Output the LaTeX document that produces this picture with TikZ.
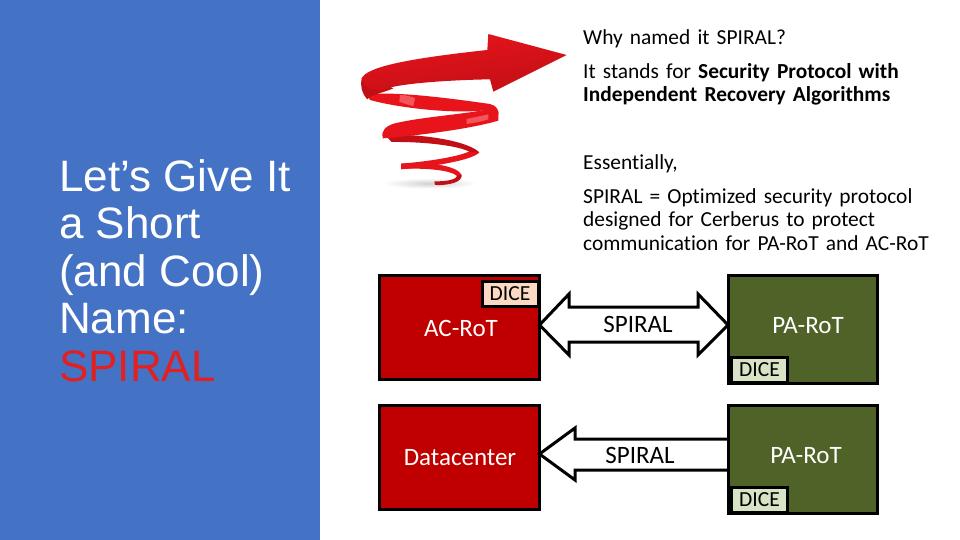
\documentclass[tikz,border=0pt]{standalone}
\usepackage{fontspec}
\setmainfont{Carlito}[Ligatures=NoCommon]
\newfontfamily\leftfont{Liberation Sans}
\definecolor{panelblue}{HTML}{4472C4}
\definecolor{acred}{HTML}{C00000}
\definecolor{paolive}{HTML}{4F6228}
\definecolor{dicepeach}{HTML}{FBD9C2}
\definecolor{diceolive}{HTML}{D8E2C4}
\definecolor{ribbon}{HTML}{E8141C}
\definecolor{ribbondark}{HTML}{C20F15}
\definecolor{ribbonlight}{HTML}{F4555A}
\definecolor{titlered}{HTML}{E3201F}
\tikzset{
  x=1pt,y=-1pt,
  mainbox/.style={draw=black,line width=3pt,inner sep=0pt,outer sep=0pt,rectangle},
  dicebox/.style={draw=black,line width=3pt,inner sep=0pt,outer sep=0pt,rectangle,font=\fontsize{21.5}{21.5}\selectfont,text=black,minimum height=25pt,minimum width=56pt},
  boxtext/.style={text=white,font=\fontsize{25}{25}\selectfont,inner sep=0pt,anchor=center},
  flowtext/.style={text=black,font=\fontsize{25}{25}\selectfont,inner sep=0pt,anchor=center},
  bodytext/.style={text=black,font=\fontsize{21.4}{23.6}\selectfont,anchor=north west,inner sep=0pt,align=left,text width=370pt},
  flowarrow/.style={draw=black,line width=3pt,fill=white,miter limit=6}
}
\begin{document}
\begin{tikzpicture}
\useasboundingbox (0,0) rectangle (960,540);
\fill[white] (0,0) rectangle (960,540);
\fill[panelblue] (0,0) rectangle (320,540);
\node[anchor=north west,inner sep=0pt,align=left,text=white,font=\leftfont\fontsize{44}{47.5}\selectfont] (title) at (59,159)
  {Let’s Give It\\a Short\\(and Cool)\\Name:\\\textcolor{titlered}{SPIRAL}};

% spiral picture
\begin{scope}[shift={(350,20)},x=0.3333pt,y=-0.3333pt]
  \shade[inner color=black!18,outer color=white] (240,490) ellipse (140 and 16);
  % bottom curl
  \fill[ribbondark] (335,465) .. controls (338,485) and (300,497) .. (255,495) -- (253,484) .. controls (290,485) and (325,478) .. (320,465) -- cycle;
  \fill[ribbon] (153,431) .. controls (230,425) and (320,435) .. (335,465) -- (320,467) .. controls (300,450) and (230,445) .. (170,446) -- cycle;
  \fill[ribbon] (360,393) .. controls (330,410) and (230,425) .. (153,431) -- (153,448) .. controls (250,440) and (370,420) .. (388,397) -- cycle;
  \fill[ribbondark] (105,345) .. controls (200,340) and (350,360) .. (388,397) -- (362,397) .. controls (330,378) and (230,365) .. (125,366) -- cycle;
  % front of upper coil
  \fill[ribbon] (425,266) .. controls (330,285) and (220,290) .. (135,310) .. controls (105,318) and (92,335) .. (98,355) .. controls (170,350) and (350,330) .. (445,302) -- (445,275) -- cycle;
  \fill[ribbonlight] (350,297) .. controls (370,292) and (395,288) .. (415,283) -- (415,298) .. controls (395,305) and (375,308) .. (350,312) -- cycle;
  % back of upper coil
  \fill[ribbon] (50,222) .. controls (150,215) and (300,235) .. (420,252) .. controls (440,257) and (447,270) .. (445,285) -- (425,268) .. controls (330,285) and (150,265) .. (60,240) -- cycle;
  \fill[ribbonlight] (150,225) .. controls (170,225) and (185,230) .. (195,235) -- (190,258) .. controls (175,255) and (160,250) .. (148,245) -- cycle;
  \fill[ribbondark] (35,175) .. controls (30,195) and (35,220) .. (52,238) .. controls (60,225) and (110,215) .. (130,205) -- (60,170) -- cycle;
  % main arrow
  \shade[top color=ribbon,bottom color=ribbondark,shading angle=8]
    (35,175) .. controls (50,140) and (180,115) .. (412,90) -- (415,42) -- (650,105) -- (430,215) -- (420,178)
    .. controls (300,180) and (150,190) .. (100,208) .. controls (70,212) and (40,205) .. (35,175) -- cycle;
\end{scope}

% body text
\node[bodytext] (why) at (583,29) {Why named it SPIRAL?};
\node[bodytext] (stands) at (583,63) {It stands for \textbf{Security Protocol with}\\\textbf{Independent Recovery Algorithms}};
\node[bodytext] (ess) at (583,154) {Essentially,};
\node[bodytext] (def) at (583,188) {SPIRAL = Optimized security protocol\\designed for Cerberus to protect\\communication for PA-RoT and AC-RoT};

% boxes
\node[mainbox,fill=acred,minimum width=160pt,minimum height=104pt] (ac) at (459.5,327) {};
\node[mainbox,fill=paolive,minimum width=149pt,minimum height=108pt] (pa1) at (802.5,329) {};
\node[mainbox,fill=acred,minimum width=160pt,minimum height=104pt] (dc) at (459.5,457) {};
\node[mainbox,fill=paolive,minimum width=149pt,minimum height=108pt] (pa2) at (802.5,459) {};

% arrows
\draw[flowarrow] (ac.east |- 0,325) -- (569,294) -- (569,307) -- (698,307) -- (698,294) -- (pa1.west |- 0,325) -- (698,355) -- (698,342) -- (569,342) -- (569,355) -- cycle;
\draw[draw=black,line width=3pt,miter limit=6] (pa2.west |- 0,439) -- (575,439) -- (575,428) -- (dc.east |- 0,454) -- (575,480) -- (575,470) -- (pa2.west |- 0,470);

% dice
\node[dicebox,fill=dicepeach] (d1) at (510,293.5) {DICE};
\node[dicebox,fill=diceolive] (d2) at (759.5,369.5) {DICE};
\node[dicebox,fill=diceolive] (d3) at (759.5,499.5) {DICE};

% labels
\node[boxtext] (l1) at (461,328) {AC-RoT};
\node[boxtext] (l2) at (808,325.5) {PA-RoT};
\node[boxtext] (l3) at (460,458) {Datacenter};
\node[boxtext] (l4) at (806,456) {PA-RoT};
\node[flowtext] (s1) at (638,324) {SPIRAL};
\node[flowtext] (s2) at (640,455) {SPIRAL};
\end{tikzpicture}
\end{document}
